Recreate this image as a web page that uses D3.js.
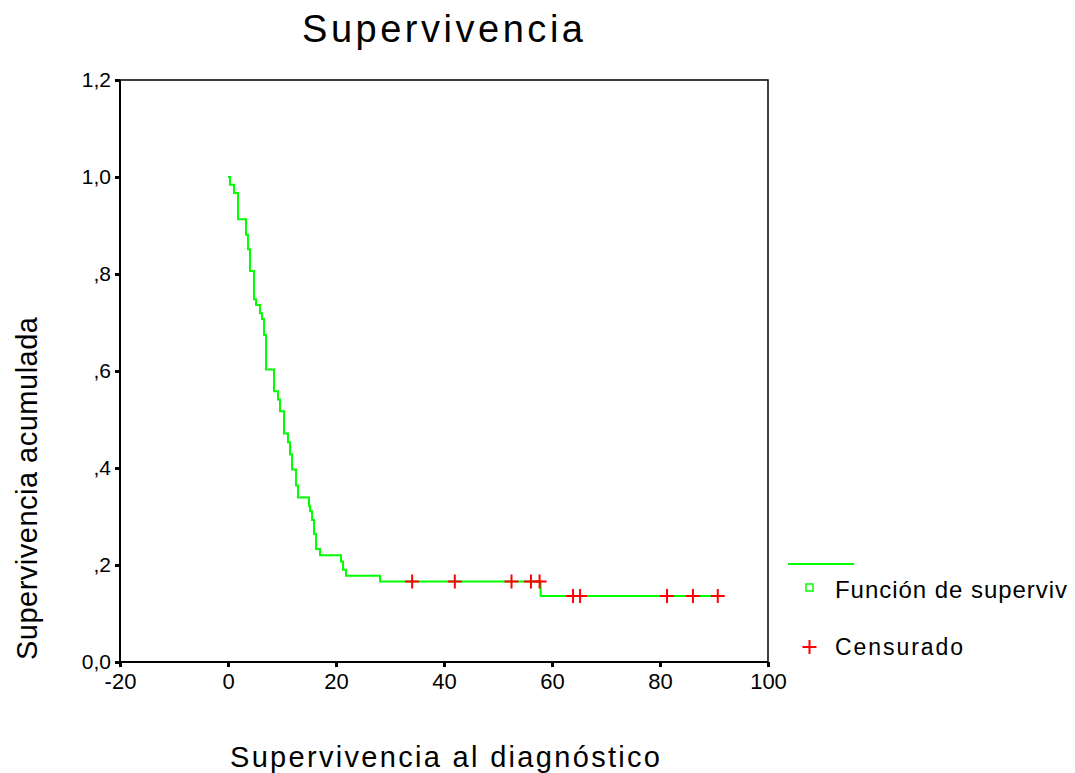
<!DOCTYPE html>
<html>
<head>
<meta charset="utf-8">
<script src="https://cdn.jsdelivr.net/npm/d3@7"></script>
<style>
  body { margin: 0; background: #fff; }
  text { font-family: "Liberation Sans", Arial, sans-serif; fill: #000; }
</style>
</head>
<body>
<div id="chart"></div>
<script>
// Kaplan-Meier step curve
const stepTimes = [0, 0.37, 1.11, 1.85, 3.33, 3.70, 4.07, 4.81, 5.19, 5.93, 6.30, 6.67, 7.04,
  8.52, 9.26, 9.63, 10.37, 11.11, 11.48, 11.85, 12.59, 12.96, 15.0, 15.19, 15.56, 15.93,
  16.30, 17.04, 20.93, 21.30, 21.85, 28.15, 57.9];
const stepSurvival = [1.0, 0.984, 0.967, 0.913, 0.881, 0.851, 0.806, 0.748, 0.736, 0.719, 0.707,
  0.674, 0.603, 0.558, 0.541, 0.517, 0.471, 0.453, 0.428, 0.397, 0.364, 0.339, 0.322, 0.311,
  0.293, 0.264, 0.233, 0.220, 0.207, 0.190, 0.178, 0.166, 0.136];
const endTime = 90.7;

// censored cases
const censorTimes = [34.1, 42.0, 52.5, 56.1, 57.7, 63.9, 65.2, 81.3, 86.1, 90.7];

const yTicks = [0, 0.2, 0.4, 0.6, 0.8, 1.0, 1.2];
const yTickLabels = ["0,0", ",2", ",4", ",6", ",8", "1,0", "1,2"];
const xTicks = [-20, 0, 20, 40, 60, 80, 100];
const xTickLabels = ["-20", "0", "20", "40", "60", "80", "100"];

const width = 1075;
const height = 773;
const plotLeft = 120, plotRight = 768, plotTop = 80, plotBottom = 662;

const svg = d3.select("#chart").append("svg")
    .attr("width", width)
    .attr("height", height);

const x = d3.scaleLinear().domain([-20, 100]).range([plotLeft, plotRight]);
const y = d3.scaleLinear().domain([0, 1.2]).range([plotBottom, plotTop]);

// frame
svg.append("rect")
    .attr("x", plotLeft).attr("y", plotTop)
    .attr("width", plotRight - plotLeft).attr("height", plotBottom - plotTop)
    .attr("fill", "none").attr("stroke", "#000").attr("stroke-width", 1.5);

// y axis
const yAxis = svg.append("g")
    .attr("transform", `translate(${plotLeft},0)`)
    .call(d3.axisLeft(y).tickValues(yTicks).tickSize(5).tickPadding(4)
        .tickFormat((d, i) => yTickLabels[i]));
yAxis.select(".domain").attr("stroke-width", 2).attr("d", `M0,${plotTop}V${plotBottom}`);
yAxis.selectAll(".tick line").attr("stroke-width", 3);
yAxis.selectAll("text").style("font-size", "21px").attr("fill", "#000");

// x axis (plain hyphen for the minus, like the original)
const xAxis = svg.append("g")
    .attr("transform", `translate(0,${plotBottom})`)
    .call(d3.axisBottom(x).tickValues(xTicks).tickSize(5).tickPadding(6)
        .tickFormat((d, i) => xTickLabels[i]));
xAxis.select(".domain").attr("stroke-width", 2).attr("d", `M${plotLeft},0H${plotRight}`);
xAxis.selectAll(".tick line").attr("stroke-width", 3);
xAxis.selectAll("text").style("font-size", "22px").attr("fill", "#000");

// survival curve
const pts = stepTimes.map((t, i) => [t, stepSurvival[i]]);
pts.push([endTime, stepSurvival[stepSurvival.length - 1]]);

const line = d3.line()
    .x(d => x(d[0]))
    .y(d => y(d[1]))
    .curve(d3.curveStepAfter);

svg.append("path")
    .datum(pts)
    .attr("fill", "none")
    .attr("stroke", "#00ff00")
    .attr("stroke-width", 2)
    .attr("d", line);

// censored marks sit on the curve
const survAt = t => stepSurvival[d3.bisectRight(stepTimes, t) - 1];
const plus = s => `M${-s},0H${s}M0,${-s}V${s}`;

svg.selectAll(".censor")
    .data(censorTimes)
    .enter().append("path")
    .attr("class", "censor")
    .attr("transform", d => `translate(${x(d)},${y(survAt(d))})`)
    .attr("d", plus(7))
    .attr("stroke", "#ff0000")
    .attr("stroke-width", 2)
    .attr("fill", "none");

// title
svg.append("text")
    .attr("x", 302).attr("y", 42)
    .attr("textLength", 281).attr("lengthAdjust", "spacing")
    .style("font-size", "38px")
    .text("Supervivencia");

// x label
svg.append("text")
    .attr("x", 230).attr("y", 767)
    .attr("textLength", 430).attr("lengthAdjust", "spacing")
    .style("font-size", "29px")
    .text("Supervivencia al diagnóstico");

// y label
svg.append("text")
    .attr("transform", "translate(37,660) rotate(-90)")
    .attr("textLength", 343).attr("lengthAdjust", "spacing")
    .style("font-size", "29px")
    .text("Supervivencia acumulada");

// legend
svg.append("line")
    .attr("x1", 788).attr("x2", 854)
    .attr("y1", 564).attr("y2", 564)
    .attr("stroke", "#00ff00").attr("stroke-width", 2);

svg.append("rect")
    .attr("x", 806).attr("y", 584)
    .attr("width", 7).attr("height", 7)
    .attr("fill", "none").attr("stroke", "#00ff00").attr("stroke-width", 1.5);

svg.append("text")
    .attr("x", 835).attr("y", 598)
    .attr("textLength", 232).attr("lengthAdjust", "spacing")
    .style("font-size", "24px")
    .text("Función de superviv");

svg.append("path")
    .attr("transform", "translate(809.5,647)")
    .attr("d", plus(7))
    .attr("stroke", "#ff0000").attr("stroke-width", 2);

svg.append("text")
    .attr("x", 835).attr("y", 655)
    .attr("textLength", 128).attr("lengthAdjust", "spacing")
    .style("font-size", "23px")
    .text("Censurado");
</script>
</body>
</html>
